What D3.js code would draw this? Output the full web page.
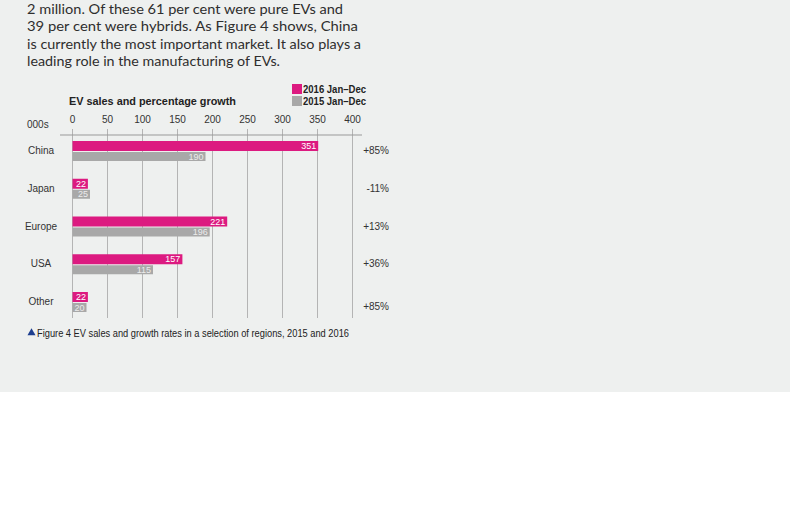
<!DOCTYPE html>
<html>
<head>
<meta charset="utf-8">
<script src="https://cdn.jsdelivr.net/npm/d3@7"></script>
<style>
  body { margin: 0; background: #fff; }
  svg { display: block; }
</style>
</head>
<body>
<div id="chart"></div>
<script>
// data
const regions = ["China", "Japan", "Europe", "USA", "Other"];
const sales2016 = [351, 22, 221, 157, 22];
const sales2015 = [190, 25, 196, 115, 20];
const growth = ["+85%", "-11%", "+13%", "+36%", "+85%"];
const ticks = [0, 50, 100, 150, 200, 250, 300, 350, 400];
const seriesNames = ["2016 Jan\u2013Dec", "2015 Jan\u2013Dec"];

const paragraph = [
  "2 million. Of these 61 per cent were pure EVs and",
  "39 per cent were hybrids. As Figure 4 shows, China",
  "is currently the most important market. It also plays a",
  "leading role in the manufacturing of EVs."
];
const paragraphWidths = [316, 331, 334, 253];

const width = 790;
const height = 508;
const pink = "#dc1a80";
const grey = "#a8a8a8";
const ink = "#333";

const svg = d3
  .select("#chart")
  .append("svg")
  .attr("width", width)
  .attr("height", height);

// scanned page background
svg.append("rect")
  .attr("width", width)
  .attr("height", 392)
  .attr("fill", "#eef0ef");

// body text above the figure
svg.append("g")
  .selectAll("text")
  .data(paragraph)
  .enter()
  .append("text")
  .attr("x", 27)
  .attr("y", (d, i) => 14 + i * 17.3)
  .attr("textLength", (d, i) => paragraphWidths[i])
  .attr("lengthAdjust", "spacingAndGlyphs")
  .attr("font-family", "Lato, 'Open Sans', sans-serif")
  .attr("font-size", 14)
  .attr("fill", "#2e2e2e")
  .text((d) => d);

const x = d3.scaleLinear().domain([0, 400]).range([72, 352]);
const y = d3.scalePoint().domain(regions).range([151, 302]);

const gridTop = 129;
const gridBottom = 318;

// tick labels + vertical gridlines
const axis = svg
  .append("g")
  .attr("transform", `translate(0,${gridTop})`)
  .call(
    d3.axisTop(x)
      .tickValues(ticks)
      .tickSize(-(gridBottom - gridTop))
      .tickPadding(6)
  );
axis.select(".domain").remove();
axis.selectAll(".tick line").attr("stroke", "#b4b4b4");
axis.selectAll(".tick text")
  .attr("font-family", "'Liberation Sans', Arial, sans-serif")
  .attr("font-size", 10)
  .attr("fill", ink);

svg.append("line")
  .attr("x1", 60)
  .attr("x2", 362)
  .attr("y1", 135)
  .attr("y2", 135)
  .attr("stroke", "#999");

svg.append("text")
  .attr("x", 27)
  .attr("y", 128)
  .attr("font-family", "'Liberation Sans', Arial, sans-serif")
  .attr("font-size", 10)
  .attr("fill", ink)
  .text("000s");

svg.append("text")
  .attr("x", 69)
  .attr("y", 105)
  .attr("textLength", 167)
  .attr("lengthAdjust", "spacingAndGlyphs")
  .attr("font-family", "'Liberation Sans', Arial, sans-serif")
  .attr("font-size", 11)
  .attr("font-weight", "bold")
  .attr("fill", "#222")
  .text("EV sales and percentage growth");

// legend
const legend = svg
  .append("g")
  .selectAll("g")
  .data(seriesNames)
  .enter()
  .append("g")
  .attr("transform", (d, i) => `translate(292,${84 + i * 12})`);
legend.append("rect")
  .attr("width", 10)
  .attr("height", 10)
  .attr("fill", (d, i) => (i === 0 ? pink : grey));
legend.append("text")
  .attr("x", 11)
  .attr("y", 8.5)
  .attr("textLength", 63)
  .attr("lengthAdjust", "spacingAndGlyphs")
  .attr("font-family", "'Liberation Sans', Arial, sans-serif")
  .attr("font-size", 10)
  .attr("font-weight", "bold")
  .attr("fill", "#222")
  .text((d) => d);

// bars
const rows = regions.map((region, i) => ({
  region,
  v2016: sales2016[i],
  v2015: sales2015[i],
  growth: growth[i],
}));

const barH = 10;
const row = svg
  .append("g")
  .selectAll("g")
  .data(rows)
  .enter()
  .append("g")
  .attr("transform", (d) => `translate(0,${y(d.region)})`);

row.append("rect")
  .attr("x", x(0) + 0.5)
  .attr("y", -barH)
  .attr("width", (d) => x(d.v2016) - x(0))
  .attr("height", barH)
  .attr("fill", pink);

row.append("rect")
  .attr("x", x(0) + 0.5)
  .attr("y", 1)
  .attr("width", (d) => x(d.v2015) - x(0))
  .attr("height", barH - 1)
  .attr("fill", grey);

row.append("text")
  .attr("x", (d) => x(d.v2016) - 1.5)
  .attr("y", -2)
  .attr("text-anchor", "end")
  .attr("font-family", "'Liberation Sans', Arial, sans-serif")
  .attr("font-size", 9)
  .attr("fill", "#fff")
  .text((d) => d.v2016);

row.append("text")
  .attr("x", (d) => x(d.v2015) - 1.5)
  .attr("y", 8.5)
  .attr("text-anchor", "end")
  .attr("font-family", "'Liberation Sans', Arial, sans-serif")
  .attr("font-size", 9)
  .attr("fill", "#ececec")
  .text((d) => d.v2015);

row.append("text")
  .attr("x", 41)
  .attr("y", 3)
  .attr("text-anchor", "middle")
  .attr("font-family", "'Liberation Sans', Arial, sans-serif")
  .attr("font-size", 10)
  .attr("fill", ink)
  .text((d) => d.region);

row.append("text")
  .attr("x", 389)
  .attr("y", (d, i) => (i === regions.length - 1 ? 8 : 3))
  .attr("text-anchor", "end")
  .attr("font-family", "'Liberation Sans', Arial, sans-serif")
  .attr("font-size", 10)
  .attr("fill", ink)
  .text((d) => d.growth);

// caption
svg.append("path")
  .attr("d", d3.symbol(d3.symbolTriangle, 28)())
  .attr("transform", "translate(31.5,333)")
  .attr("fill", "#1d3e8f");
svg.append("text")
  .attr("x", 37)
  .attr("y", 337)
  .attr("textLength", 312)
  .attr("lengthAdjust", "spacingAndGlyphs")
  .attr("font-family", "'Liberation Sans', Arial, sans-serif")
  .attr("font-size", 10)
  .attr("fill", "#222")
  .text("Figure 4 EV sales and growth rates in a selection of regions, 2015 and 2016");
</script>
</body>
</html>
